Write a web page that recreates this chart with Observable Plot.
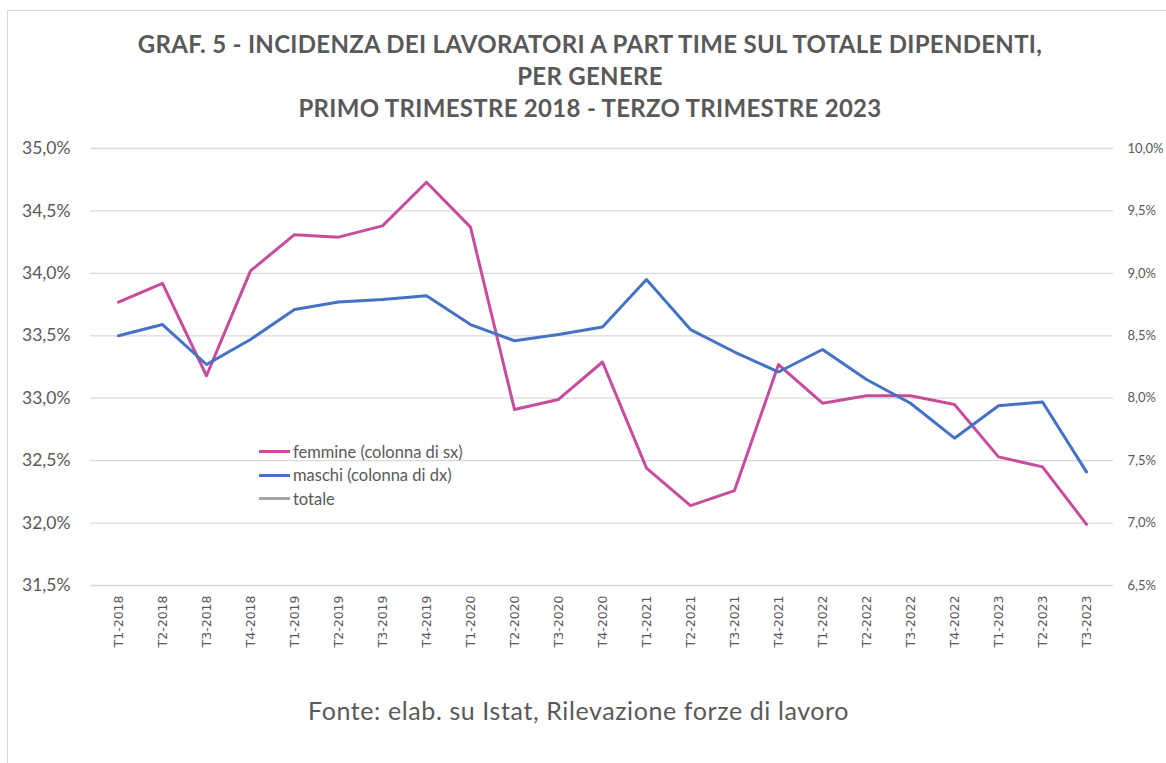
<!DOCTYPE html>
<html>
<head>
<meta charset="utf-8">
<script src="https://cdn.jsdelivr.net/npm/d3@7"></script>
<script src="https://cdn.jsdelivr.net/npm/@observablehq/plot@0.6"></script>
<style>
  html, body { margin: 0; padding: 0; background: #fff; }
  #frame { position: relative; width: 1166px; height: 763px; overflow: hidden; background: #fff; font-family: Lato, "Open Sans", sans-serif; color: #595959; }
  #border { position: absolute; left: 7px; top: 10px; width: 1200px; height: 800px; border-left: 1px solid #d9d9d9; border-top: 1px solid #d9d9d9; }
  #title { position: absolute; left: 14px; width: 1152px; top: 28px; text-align: center; font-weight: 700; font-size: 24px; letter-spacing: 0.3px; line-height: 32px; color: #595959; }
  #chart { position: absolute; left: 0; top: 130px; }
  #legend { position: absolute; left: 259px; top: 440px; font-size: 16.5px; color: #595959; }
  .row { display: flex; align-items: center; height: 23.5px; }
  .sw { width: 31px; height: 3px; margin-right: 3px; }
  #caption { position: absolute; left: 308px; top: 695px; font-size: 25px; letter-spacing: 0.6px; color: #595959; white-space: nowrap; }
</style>
</head>
<body>
<div id="frame">
  <div id="border"></div>
  <div id="title"></div>
  <div id="chart"></div>
  <div id="legend"></div>
  <div id="caption"></div>
</div>
<script>
const titleLines = [
  "GRAF. 5 - INCIDENZA DEI LAVORATORI A PART TIME SUL TOTALE DIPENDENTI,",
  "PER GENERE",
  "PRIMO TRIMESTRE 2018 - TERZO TRIMESTRE 2023"
];
const caption = "Fonte: elab. su Istat, Rilevazione forze di lavoro";

const quarters = ["T1-2018","T2-2018","T3-2018","T4-2018","T1-2019","T2-2019","T3-2019","T4-2019",
  "T1-2020","T2-2020","T3-2020","T4-2020","T1-2021","T2-2021","T3-2021","T4-2021",
  "T1-2022","T2-2022","T3-2022","T4-2022","T1-2023","T2-2023","T3-2023"];
const femmine = [33.77,33.92,33.18,34.02,34.31,34.29,34.38,34.73,34.37,32.91,32.99,33.29,
  32.44,32.14,32.26,33.27,32.96,33.02,33.02,32.95,32.53,32.45,31.99];
const maschi = [8.50,8.59,8.27,8.47,8.71,8.77,8.79,8.82,8.59,8.46,8.51,8.57,
  8.95,8.55,8.37,8.21,8.39,8.15,7.96,7.68,7.94,7.97,7.41];

const leftTicks = [31.5,32.0,32.5,33.0,33.5,34.0,34.5,35.0];
const rightTicks = [6.5,7.0,7.5,8.0,8.5,9.0,9.5,10.0];

const seriesNames = ["femmine (colonna di sx)", "maschi (colonna di dx)", "totale"];
const seriesColors = ["#C74C9D", "#4472C4", "#A5A5A5"];

const leftDomain = [leftTicks[0], leftTicks[leftTicks.length-1]];
const rightDomain = [rightTicks[0], rightTicks[rightTicks.length-1]];
const toLeft = v => leftDomain[0] + (v - rightDomain[0]) * (leftDomain[1]-leftDomain[0]) / (rightDomain[1]-rightDomain[0]);
const fmt = v => v.toFixed(1).replace(".", ",") + "%";

const rows = quarters.map((q, i) => ({q, f: femmine[i], m: maschi[i]}));

document.getElementById("title").innerHTML = titleLines.map(t => `<div>${t}</div>`).join("");
document.getElementById("caption").textContent = caption;
document.getElementById("legend").innerHTML = seriesNames.map((n, i) =>
  `<div class="row"><div class="sw" style="background:${seriesColors[i]}"></div><span>${n}</span></div>`).join("");

const chart = Plot.plot({
  width: 1166,
  height: 540,
  marginTop: 18,
  marginBottom: 85,
  marginLeft: 90,
  marginRight: 53,
  style: {fontFamily: "Lato, sans-serif", color: "#595959", background: "transparent", overflow: "visible"},
  x: {type: "point", domain: quarters, padding: 0.5, label: null},
  y: {domain: leftDomain, label: null},
  marks: [
    Plot.ruleY(leftTicks, {stroke: "#d9d9d9", strokeWidth: 1.3}),
    Plot.axisY(leftTicks, {anchor: "left", tickSize: 0, tickPadding: 20, tickFormat: fmt, fontSize: 17.5, label: null}),
    Plot.axisY(rightTicks.map(toLeft), {anchor: "right", tickSize: 0, tickPadding: 14, tickFormat: (d, i) => fmt(rightTicks[i]), fontSize: 13, label: null}),
    Plot.axisX({tickSize: 0, tickRotate: -90, tickPadding: 10, fontSize: 12.5, label: null}),
    Plot.line(rows, {x: "q", y: "f", stroke: seriesColors[0], strokeWidth: 3, strokeLinejoin: "round", strokeLinecap: "round"}),
    Plot.line(rows, {x: "q", y: d => toLeft(d.m), stroke: seriesColors[1], strokeWidth: 3, strokeLinejoin: "round", strokeLinecap: "round"})
  ]
});
chart.querySelectorAll("text").forEach(t => {
  if (quarters.includes(t.textContent)) {
    t.style.fontFamily = "'DejaVu Sans', sans-serif";
    t.style.fontSize = "12.5px";
  }
});
document.getElementById("chart").appendChild(chart);
</script>
</body>
</html>
